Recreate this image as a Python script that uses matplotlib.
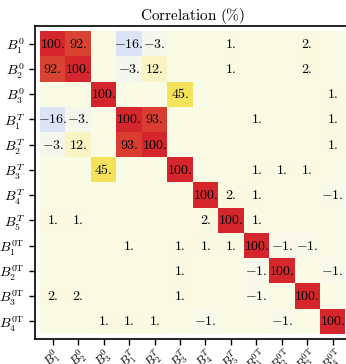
import matplotlib
matplotlib.use("Agg")
import matplotlib.pyplot as plt
import numpy as np
from matplotlib.colors import LinearSegmentedColormap

plt.rcParams['mathtext.fontset'] = 'cm'
plt.rcParams['font.family'] = 'serif'
plt.rcParams['font.serif'] = ['DejaVu Serif']

labels = [r"B_1^0", r"B_2^0", r"B_3^0", r"B_1^T", r"B_2^T", r"B_3^T", r"B_4^T", r"B_5^T",
          r"B_1^{0\mathrm{T}}", r"B_2^{0\mathrm{T}}", r"B_3^{0\mathrm{T}}", r"B_4^{0\mathrm{T}}"]

# correlation matrix in percent (blank cells = 0)
corr = np.array([
    [100,  92,   0, -16,  -3,   0,   0,   1,   0,   0,   2,   0],
    [ 92, 100,   0,  -3,  12,   0,   0,   1,   0,   0,   2,   0],
    [  0,   0, 100,   0,   0,  45,   0,   0,   0,   0,   0,   1],
    [-16,  -3,   0, 100,  93,   0,   0,   0,   1,   0,   0,   1],
    [ -3,  12,   0,  93, 100,   0,   0,   0,   0,   0,   0,   1],
    [  0,   0,  45,   0,   0, 100,   0,   0,   1,   1,   1,   0],
    [  0,   0,   0,   0,   0,   0, 100,   2,   1,   0,   0,  -1],
    [  1,   1,   0,   0,   0,   0,   2, 100,   1,   0,   0,   0],
    [  0,   0,   0,   1,   0,   1,   1,   1, 100,  -1,  -1,   0],
    [  0,   0,   0,   0,   0,   1,   0,   0,  -1, 100,   0,  -1],
    [  2,   2,   0,   0,   0,   1,   0,   0,  -1,   0, 100,   0],
    [  0,   0,   1,   1,   1,   0,  -1,   0,   0,  -1,   0, 100],
])

cmap = LinearSegmentedColormap.from_list(
    "corr", [(0.0, "#3050c0"), (0.45, "#eaeefb"), (0.5, "#fafbe6"),
             (0.75, "#f4df4c"), (1.0, "#d4262c")])

fig = plt.figure(figsize=(3.46, 3.64), dpi=100)
ax = fig.add_axes([0.101, 0.0687, 0.912, 0.8599])

n = len(labels)
ax.pcolormesh(np.arange(n + 1) - 0.5, np.arange(n + 1) - 0.5, corr,
              cmap=cmap, vmin=-100, vmax=100, linewidth=0)
for i in range(n):
    for j in range(n):
        v = corr[i, j]
        if v != 0:
            ax.text(j, i, r"$%d.$" % v, ha='center', va='center', fontsize=10)

ax.set_xlim(-0.7, n - 0.3)
ax.set_ylim(n - 0.3, -0.7)
ax.set_xticks(np.arange(n))
ax.set_yticks(np.arange(n))
ax.set_xticklabels(["$%s$" % l for l in labels], rotation=45, ha='center', fontsize=9)
ax.set_yticklabels(["$%s$" % l for l in labels], fontsize=10)
ax.tick_params(direction='out', length=4, width=1)
ax.tick_params(axis='x', pad=1)
for s in ax.spines.values():
    s.set_linewidth(1.2)
ax.set_title(r"$\mathrm{Correlation\ (\%)}$", fontsize=11, pad=4)

fig.savefig("out.png", dpi=100)
